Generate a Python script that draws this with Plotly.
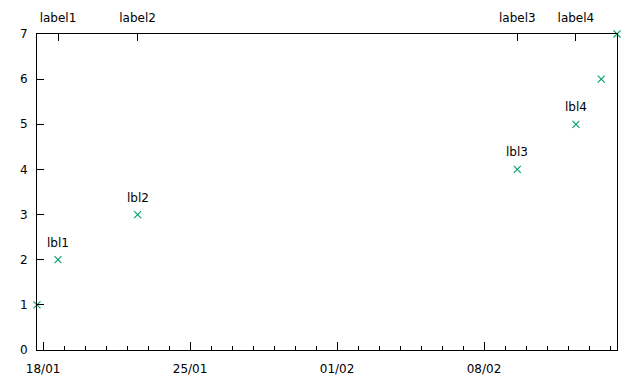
import plotly.graph_objects as go

# data
dates = ["2013-01-17 17:00", "2013-01-18 17:00", "2013-01-22 12:00",
         "2013-02-09 14:00", "2013-02-12 09:00", "2013-02-13 14:00",
         "2013-02-14 08:00"]
values = [1, 2, 3, 4, 5, 6, 7]
point_label_idx = [1, 2, 3, 4]
point_labels = ["lbl1", "lbl2", "lbl3", "lbl4"]
top_labels = ["label1", "label2", "label3", "label4"]
y_ticks = [0, 1, 2, 3, 4, 5, 6, 7]

font = dict(family="DejaVu Sans", size=12, color="black")
green = "#009e73"

fig = go.Figure()
fig.add_trace(go.Scatter(
    x=dates, y=values, mode="markers",
    marker=dict(symbol="x-thin", size=7, line=dict(color=green, width=1.1), color=green),
    showlegend=False, cliponaxis=False, xaxis="x", yaxis="y"))
# invisible trace for top axis
fig.add_trace(go.Scatter(x=[dates[0], dates[-1]], y=[0, 0], mode="markers",
                         marker=dict(opacity=0), showlegend=False,
                         hoverinfo="skip", xaxis="x2", yaxis="y"))

for i, t in zip(point_label_idx, point_labels):
    fig.add_annotation(x=dates[i], y=values[i], text=t, showarrow=False,
                       yshift=17, font=font, xref="x", yref="y")

fig.update_layout(
    width=640, height=384,
    margin=dict(l=37, r=23, t=34, b=34),
    paper_bgcolor="white", plot_bgcolor="white",
    font=font,
    xaxis=dict(type="date", range=[dates[0], dates[-1]],
               tick0="2013-01-18", dtick=7 * 86400000, tickformat="%d/%m",
               ticks="inside", ticklen=8, tickcolor="black", tickwidth=1,
               minor=dict(dtick=86400000, tick0="2013-01-18", ticks="inside",
                          ticklen=4, tickcolor="black", showgrid=False),
               showline=True, linecolor="black", linewidth=1, mirror=True,
               showgrid=False, zeroline=False, tickfont=font,
               ticklabelstandoff=8, automargin=False),
    xaxis2=dict(type="date", range=[dates[0], dates[-1]], overlaying="x",
                side="top", tickmode="array",
                tickvals=[dates[i] for i in point_label_idx], ticktext=top_labels,
                ticks="inside", ticklen=7, tickcolor="black",
                showline=True, linecolor="black", showgrid=False,
                zeroline=False, tickfont=font, matches="x",
                ticklabelstandoff=6, automargin=False),
    yaxis=dict(range=[0, 7], tickvals=y_ticks, ticks="inside", ticklen=7,
               tickcolor="black", showline=True, linecolor="black",
               linewidth=1, mirror=True, showgrid=False, zeroline=False,
               tickfont=font, ticklabelstandoff=6, automargin=False),
)

fig.write_html("out.html")
